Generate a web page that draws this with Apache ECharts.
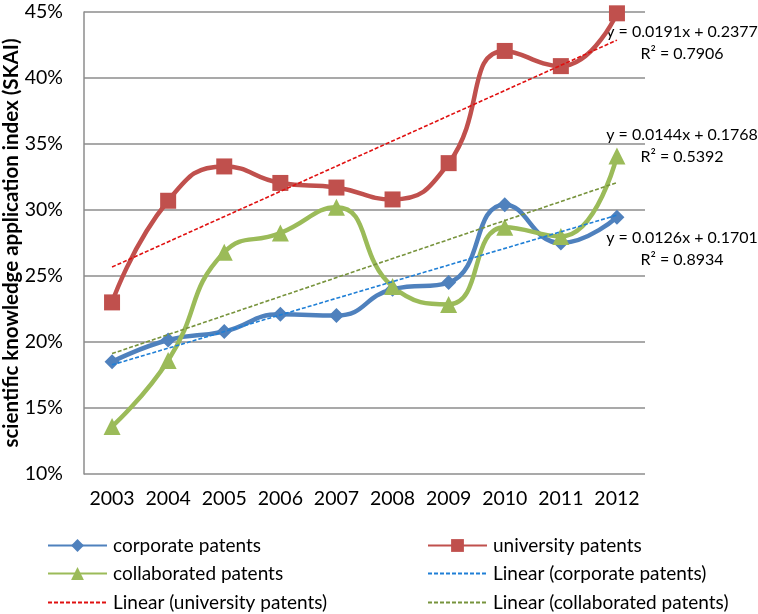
<!DOCTYPE html>
<html>
<head>
<meta charset="utf-8">
<script src="https://cdn.jsdelivr.net/npm/echarts@6/dist/echarts.min.js"></script>
<style>html,body{margin:0;padding:0;background:#fff}#c{width:758px;height:614px}</style>
</head>
<body>
<div id="c"></div>
<script>
const years = ['2003','2004','2005','2006','2007','2008','2009','2010','2011','2012'];
const corporate = [18.5, 20.15, 20.8, 22.1, 22.0, 24.0, 24.5, 30.4, 27.5, 29.45];
const university = [23.0, 30.7, 33.3, 32.05, 31.7, 30.8, 33.55, 42.05, 40.9, 44.9];
const collaborated = [13.6, 18.6, 26.8, 28.25, 30.2, 24.2, 22.85, 28.7, 28.0, 34.1];
// trend line end values (2003, 2012) as drawn
const trendCorporate = [18.27, 29.61];
const trendUniversity = [25.68, 42.87];
const trendCollaborated = [19.12, 32.08];
const yTicks = {min: 10, max: 45, interval: 5};
const equations = [
  ['y = 0.0191x + 0.2377', 'R² = 0.7906'],
  ['y = 0.0144x + 0.1768', 'R² = 0.5392'],
  ['y = 0.0126x + 0.1701', 'R² = 0.8934']
];
const legendNames = [
  ['corporate patents', 'university patents'],
  ['collaborated patents', 'Linear (corporate patents)'],
  ['Linear (university patents)', 'Linear (collaborated patents)']
];

const FONT = 'Lato, "Open Sans", sans-serif';
function trendData(t){ const d = years.map(()=>null); d[0]=t[0]; d[d.length-1]=t[1]; return d; }

const chart = echarts.init(document.getElementById('c'), null, {renderer:'canvas'});
const eqY = [32, 135, 238];
const graphics = [];
equations.forEach((eq,i)=>{
  graphics.push({type:'text', x: 682, y: eqY[i], style:{text: eq[0], font:'16px '+FONT, fill:'#000', align:'center', verticalAlign:'middle'}});
  graphics.push({type:'text', x: 682, y: eqY[i]+22, style:{text: eq[1], font:'16px '+FONT, fill:'#000', align:'center', verticalAlign:'middle'}});
});

const legends = [];
const rowTop = [536, 564, 593];
const colLeft = [47, 427];
legendNames.forEach((row, r)=>{
  row.forEach((name, c)=>{
    const isTrend = name.indexOf('Linear') === 0;
    const lg = {orient:'horizontal', left: colLeft[c], top: rowTop[r], padding:0, itemWidth:59, itemHeight:16, itemGap:0,
      selectedMode:false,
      textStyle:{fontSize:19, color:'#000', fontFamily:FONT, padding:[0,0,0,1]},
      data:[name]};
    if (isTrend) lg.itemStyle = {opacity:0};
    legends.push(lg);
  });
});

chart.setOption({
  animation:false,
  backgroundColor:'#fff',
  textStyle:{fontFamily:FONT, color:'#000'},
  grid:{left:84, top:12, right:113, bottom:140, containLabel:false, outerBoundsMode:'none'},
  xAxis:{type:'category', data:years, boundaryGap:true,
    axisLine:{show:false}, axisTick:{show:false},
    axisLabel:{color:'#000', fontSize:19.5, fontFamily:FONT, margin:15, interval:0}},
  yAxis:{type:'value', min:yTicks.min, max:yTicks.max, interval:yTicks.interval,
    name:'scientific knowledge application index (SKAI)', nameLocation:'middle', nameGap:62, nameRotate:90,
    nameMoveOverlap:false,
    nameTextStyle:{fontWeight:'bold', fontSize:20.5, color:'#000', fontFamily:FONT},
    axisLine:{show:true, lineStyle:{color:'#8c8c8c', width:1.5}}, axisTick:{show:false},
    axisLabel:{color:'#000', fontSize:19.5, fontFamily:FONT, formatter:'{value}%', margin:21},
    splitLine:{show:true, lineStyle:{color:'#8c8c8c', width:1.5}}},
  legend: legends,
  graphic: graphics,
  series:[
    {name:'Linear (corporate patents)', type:'line', data:trendData(trendCorporate), connectNulls:true, symbol:'none', z:5,
     lineStyle:{color:'#1f7fd6', width:1.6, type:[4,2]}, itemStyle:{color:'#1f7fd6'}},
    {name:'Linear (university patents)', type:'line', data:trendData(trendUniversity), connectNulls:true, symbol:'none', z:5,
     lineStyle:{color:'#e01010', width:1.6, type:[4,2]}, itemStyle:{color:'#e01010'}},
    {name:'Linear (collaborated patents)', type:'line', data:trendData(trendCollaborated), connectNulls:true, symbol:'none', z:5,
     lineStyle:{color:'#77933c', width:1.6, type:[4,2]}, itemStyle:{color:'#77933c'}},
    {name:'corporate patents', type:'line', data:corporate, smooth:0.5, symbol:'diamond', symbolSize:15,
     lineStyle:{color:'#4f81bd', width:4.5}, itemStyle:{color:'#4f81bd'}},
    {name:'university patents', type:'line', data:university, smooth:0.5, symbol:'rect', symbolSize:16,
     lineStyle:{color:'#c0504d', width:4.5}, itemStyle:{color:'#c0504d'}},
    {name:'collaborated patents', type:'line', data:collaborated, smooth:0.5, symbol:'triangle', symbolSize:17,
     lineStyle:{color:'#9bbb59', width:4.5}, itemStyle:{color:'#9bbb59'}}
  ]
});
</script>
</body>
</html>
